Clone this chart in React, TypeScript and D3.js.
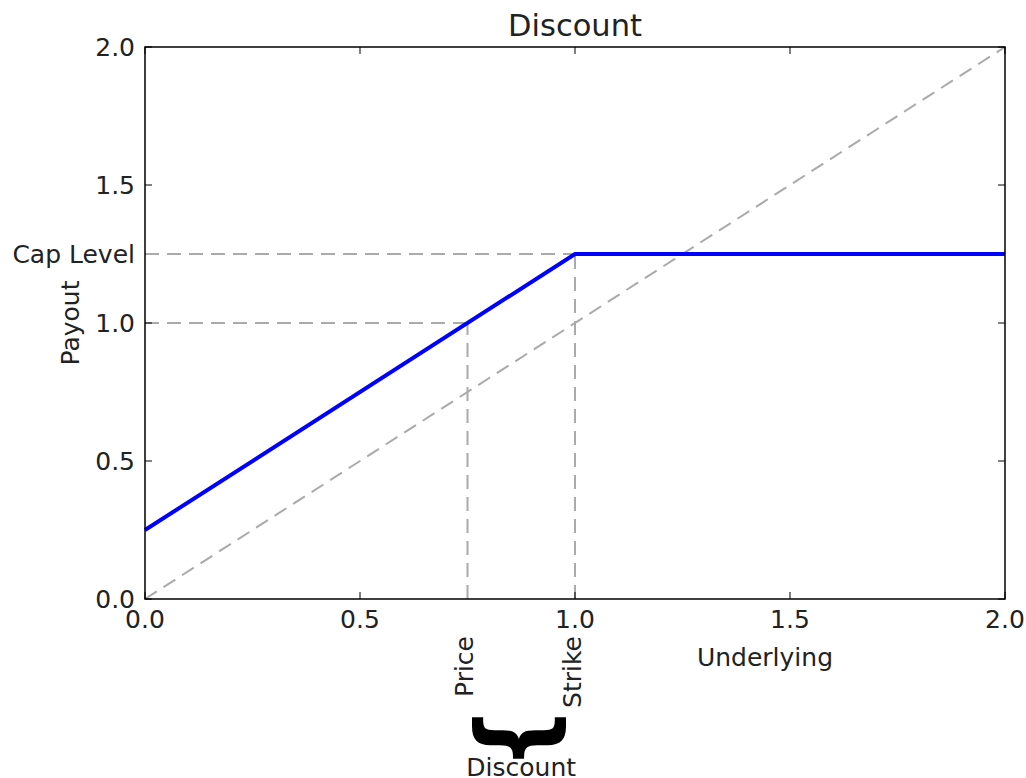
import React from "react";
import * as d3 from "d3";

// payout profile of a discount certificate
const price = 0.75;
const strike = 1.0;
const capLevel = 1.25;
const payoutX = [0, strike, 2.0];
const payoutY = [0.25, capLevel, capLevel];

const xTicks = [0, 0.5, 1.0, 1.5, 2.0];
const yTicks = [0, 0.5, 1.0, 1.5, 2.0];
const xDomain = [0, 2];
const yDomain = [0, 2];

const W = 1026;
const H = 778;
const margin = { left: 145, right: 21, top: 47, bottom: 179 };
const font = "DejaVu Sans, sans-serif";
const grey = "#aaaaaa";
const dash = "14,8";
const fs = 25;

export default function App() {
  const x = d3.scaleLinear().domain(xDomain).range([margin.left, W - margin.right]);
  const y = d3.scaleLinear().domain(yDomain).range([H - margin.bottom, margin.top]);
  const x0 = x(0), x1 = x(2), y0 = y(0), y1 = y(2);

  const line = d3.line<number>()
    .x((_, i) => x(payoutX[i]))
    .y((d) => y(d));

  const diag = d3.line<number>().x((d) => x(d)).y((d) => y(d));
  const fmt = d3.format(".1f");
  const tick = 7;
  const mid = x((price + strike) / 2);

  return (
    <svg width={W} height={H} style={{ position: "absolute", left: 0, top: 0 }} fontFamily={font}>
      <rect width={W} height={H} fill="#fff" />

      {/* reference lines */}
      <path d={diag(xDomain) ?? ""} stroke={grey} strokeWidth={2} strokeDasharray={dash} fill="none" />
      <line x1={x0} x2={x(price)} y1={y(1)} y2={y(1)} stroke={grey} strokeWidth={2} strokeDasharray={dash} />
      <line x1={x0} x2={x(strike)} y1={y(capLevel)} y2={y(capLevel)} stroke={grey} strokeWidth={2} strokeDasharray={dash} />
      <line x1={x(price)} x2={x(price)} y1={y0} y2={y(1)} stroke={grey} strokeWidth={2} strokeDasharray={dash} />
      <line x1={x(strike)} x2={x(strike)} y1={y0} y2={y(capLevel)} stroke={grey} strokeWidth={2} strokeDasharray={dash} />

      <path d={line(payoutY) ?? ""} stroke="#0000ff" strokeWidth={4} fill="none" />

      {/* frame */}
      <rect x={x0} y={y1} width={x1 - x0} height={y0 - y1} fill="none" stroke="#000" strokeWidth={1.5} />

      {xTicks.map((t) => (
        <g key={"x" + t}>
          <line x1={x(t)} x2={x(t)} y1={y0} y2={y0 - tick} stroke="#000" />
          <line x1={x(t)} x2={x(t)} y1={y1} y2={y1 + tick} stroke="#000" />
          <text x={x(t)} y={628} fontSize={fs} textAnchor="middle" fill="#222">{fmt(t)}</text>
        </g>
      ))}
      {yTicks.map((t) => (
        <g key={"y" + t}>
          <line x1={x0} x2={x0 + tick} y1={y(t)} y2={y(t)} stroke="#000" />
          <line x1={x1} x2={x1 - tick} y1={y(t)} y2={y(t)} stroke="#000" />
          <text x={135} y={y(t)} dy="0.36em" fontSize={fs} textAnchor="end" fill="#222">{fmt(t)}</text>
        </g>
      ))}
      <text x={135} y={y(capLevel)} dy="0.36em" fontSize={fs} textAnchor="end" fill="#222">Cap Level</text>

      <text transform={`translate(${x(price) - 4},636) rotate(-90)`} fontSize={fs} textAnchor="end" dy="0.36em" fill="#222">Price</text>
      <text transform={`translate(${x(strike) - 3},636) rotate(-90)`} fontSize={fs} textAnchor="end" dy="0.36em" fill="#222">Strike</text>

      <text transform={`translate(${mid + 4},738) rotate(90) scale(1,1.13)`} fontSize={90} fontWeight="bold" textAnchor="middle" dy="0.36em" fill="#000">{"}"}</text>
      <text x={mid} y={776} fontSize={fs} textAnchor="middle" fill="#222">Discount</text>

      <text x={765} y={666} fontSize={fs} textAnchor="middle" fill="#222">Underlying</text>
      <text transform={`translate(70,${y(1)}) rotate(-90)`} fontSize={fs} textAnchor="middle" dy="0.36em" fill="#222">Payout</text>
      <text x={(x0 + x1) / 2} y={36} fontSize={30.5} textAnchor="middle" fill="#222">Discount</text>
    </svg>
  );
}
